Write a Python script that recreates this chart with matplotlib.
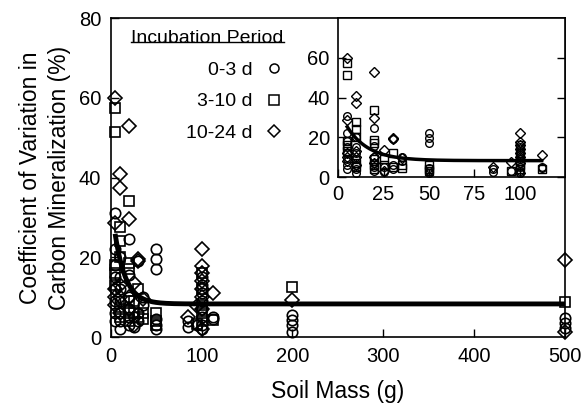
import matplotlib.pyplot as plt
from matplotlib.lines import Line2D
import numpy as np

plt.rcParams['font.family'] = ['Liberation Sans', 'DejaVu Sans']

# 0-3 d (circles)
circ_x = [5]*8 + [10]*7 + [20]*6 + [25]*2 + [30]*3 + [35]*2 + [50]*6 + [85]*2 + [95] + [100]*8 + [112]*2 + [200]*4 + [500]*3
circ_y = [31, 22, 18, 15, 12, 9, 6, 4,
          20, 15, 12, 9, 6, 4, 2,
          24.5, 15.5, 10, 7, 5, 3,
          5, 2.5,
          19, 6, 4,
          10, 8,
          22, 19.5, 17, 4.5, 3, 2,
          2.5, 4,
          3,
          15, 13, 11, 9, 7, 5, 3, 2,
          5, 4.5,
          5.5, 4.3, 3, 1.3,
          4.7, 3.4, 2.2]

# 3-10 d (squares)
sq_x = [5]*5 + [10]*5 + [20]*6 + [25]*2 + [30]*2 + [35]*2 + [50]*3 + [95] + [100]*5 + [112] + [200] + [500]
sq_y = [57.5, 51.5, 18, 16, 13,
        27.5, 24, 20, 7, 5,
        34, 18.5, 17, 9, 6, 4,
        9, 6,
        12, 5,
        6, 4.5,
        6, 4, 3,
        3.2,
        16, 12, 8, 6, 4,
        4.3,
        12.6,
        8.8]

# 10-24 d (diamonds)
dia_x = [5]*5 + [10]*5 + [20]*4 + [25]*2 + [30]*2 + [35] + [85] + [95] + [100]*8 + [112] + [200] + [500]*2
dia_y = [60, 28.5, 12, 10, 8,
         41, 37.5, 13, 10, 6,
         53, 29.5, 10, 7,
         13.5, 3,
         19.5, 19,
         9.5,
         5,
         7.7,
         22, 17.7, 16, 14, 12, 10, 7, 2,
         11,
         9.4,
         19.3, 1.3]

# fitted curve: cv = base + amp * exp(-rate * mass)
fit_base, fit_amp, fit_rate = 8.3, 26.0, 0.085

series = [(circ_x, circ_y, 'o', '0-3 d'),
          (sq_x, sq_y, 's', '3-10 d'),
          (dia_x, dia_y, 'D', '10-24 d')]

fig = plt.figure(figsize=(5.84, 4.11), dpi=100)
ax = fig.add_axes([0.190, 0.180, 0.777, 0.776])

for xs, ys, m, lab in series:
    ax.plot(xs, ys, m, mfc='none', mec='black', mew=1.2,
            ms=7.5 if m != 'D' else 7, clip_on=False)

xf = np.linspace(5, 500, 400)
ax.plot(xf, fit_base + fit_amp*np.exp(-fit_rate*xf), color='black', lw=3.5)

ax.set_xlim(0, 500)
ax.set_ylim(0, 80)
ax.set_xticks([0, 100, 200, 300, 400, 500])
ax.set_yticks([0, 20, 40, 60, 80])
ax.tick_params(direction='in', labelsize=14.5, length=6, pad=7, width=1)
for s in ax.spines.values():
    s.set_linewidth(1.2)
ax.set_xlabel('Soil Mass (g)', fontsize=16.5, labelpad=10)
ax.set_ylabel('Coefficient of Variation in\nCarbon Mineralization (%)', fontsize=16.5,
              labelpad=6, linespacing=1.3)

handles = [Line2D([], [], marker=m, ls='none', mfc='none', mec='black', mew=1.1,
                  ms=6.5 if m != 'D' else 6) for _, _, m, _ in series]
labels = [lab for _, _, _, lab in series]
leg = ax.legend(handles, labels, loc='upper left', bbox_to_anchor=(0.015, 1.005),
                frameon=False, markerfirst=False, fontsize=14, title='Incubation Period',
                title_fontsize=14, alignment='right', labelspacing=0.72,
                handlelength=1.0, handletextpad=0.6, borderaxespad=0.3)

# inset
axi = fig.add_axes([0.579, 0.569, 0.389, 0.387])
for xs, ys, m, lab in series:
    axi.plot(xs, ys, m, mfc='none', mec='black', mew=1.0,
             ms=5.5 if m != 'D' else 5)
xi = np.linspace(5, 112, 200)
axi.plot(xi, fit_base + fit_amp*np.exp(-fit_rate*xi), color='black', lw=2.5)
axi.set_xlim(0, 125)
axi.set_ylim(0, 80)
axi.set_xticks([0, 25, 50, 75, 100])
axi.set_yticks([0, 20, 40, 60])
axi.tick_params(direction='in', labelsize=14.5, length=6, pad=6, right=True, width=1)
for s in axi.spines.values():
    s.set_linewidth(1.2)

fig.canvas.draw()
tb = leg.get_title().get_window_extent()
p = fig.transFigure.inverted().transform([[tb.x0, tb.y0], [tb.x1, tb.y0]])
uy = p[0][1] + 5/411
fig.add_artist(Line2D([p[0][0], p[1][0]], [uy, uy], color='black', lw=1.0))

fig.savefig('out.png', dpi=100)
